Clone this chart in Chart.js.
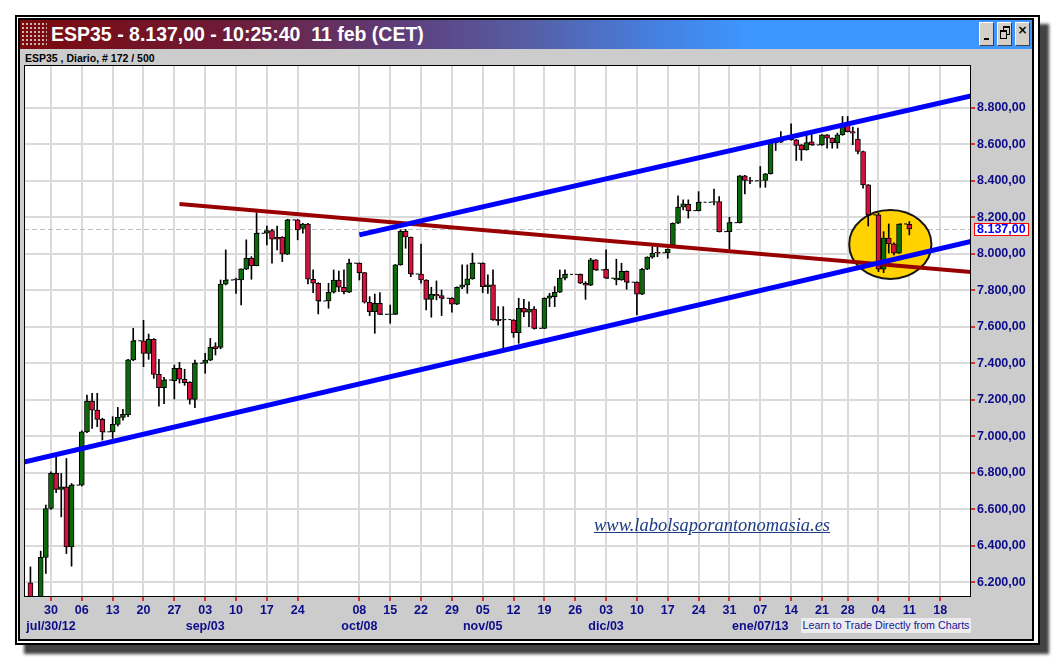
<!DOCTYPE html>
<html>
<head>
<meta charset="utf-8">
<title>ESP35 - Diario</title>
<script src="https://cdn.jsdelivr.net/npm/chart.js@4.4.1/dist/chart.umd.min.js"></script>
<style>
  html, body { margin: 0; padding: 0; background: #fff; }
  body { position: relative; width: 1056px; height: 660px; overflow: hidden; font-family: "Liberation Sans", Arial, sans-serif; }
  #outer { position: absolute; left: 15px; top: 15px; width: 1025px; height: 630px; box-sizing: border-box; border: 2px solid #000; background: #fff; box-shadow: 9px 9px 3px rgba(45,45,45,0.9); }
  #inner { position: absolute; left: 18px; top: 18px; width: 1016px; height: 623px; box-sizing: border-box; border: 2px solid #000; background: #cccccc; }
  #titlebar { position: absolute; left: 20px; top: 20px; width: 1012px; height: 29px;
    background: linear-gradient(to right, #7b0a0c 0%, #6e1a36 20%, #5d3f7c 38%, #5560a8 51%, #4580e0 63%, #3d96ff 72%, #3d96ff 100%); }
  #icon { position: absolute; left: 21px; top: 22px; width: 26px; height: 25px;
    background-image: radial-gradient(circle, #c9b3b3 0 1px, transparent 1.3px); background-size: 4px 4px; }
  #title { position: absolute; left: 51px; top: 20px; height: 29px; line-height: 29px; color: #fff; font-weight: bold; font-size: 19.5px; white-space: pre; }
  .btn { position: absolute; top: 22px; width: 15px; height: 24px; box-sizing: border-box; background: #d4d0c8;
    border: 1px solid; border-color: #fff #404040 #404040 #fff; }
  #bmin i { position: absolute; left: 4px; top: 15px; width: 5px; height: 2px; background: #000; }
  #bres i { position: absolute; width: 5px; height: 6px; border: 1px solid #000; border-top-width: 2px; background: #d4d0c8; }
  #bclose span { position: absolute; left: 0; top: 1px; width: 13px; text-align: center; font: bold 12px "DejaVu Sans", sans-serif; color: #000; line-height: 12px; }
  #sub { position: absolute; left: 25px; top: 52px; font-weight: bold; font-size: 10.5px; line-height: 12px; color: #000; white-space: pre; }
  canvas { position: absolute; left: 0; top: 0; z-index: 1; }
  #web { position: absolute; z-index: 2; left: 594px; top: 515px; font: italic 18.5px "Liberation Serif", "Times New Roman", serif;
    color: #1c3c84; text-decoration: underline; line-height: 20px; white-space: nowrap; }
  #learn { position: absolute; z-index: 2; left: 801px; top: 618px; width: 170px; height: 15px; line-height: 15px; background: #ececec;
    color: #14149a; font-size: 10.7px; text-align: center; white-space: nowrap; }
</style>
</head>
<body>
<div id="outer"></div>
<div id="inner"></div>
<div id="titlebar"></div>
<div id="icon"></div>
<div id="title">ESP35 - 8.137,00 - 10:25:40  11 feb (CET)</div>
<div class="btn" id="bmin" style="left:979px"><i></i></div>
<div class="btn" id="bres" style="left:997px"><i style="left:5px;top:3px"></i><i style="left:2px;top:7px"></i></div>
<div class="btn" id="bclose" style="left:1015px"><span>×</span></div>
<div id="sub">ESP35 , Diario, # 172 / 500</div>
<canvas id="chart" width="1056" height="660"></canvas>
<div id="web">www.labolsaporantonomasia.es</div>
<div id="learn">Learn to Trade Directly from Charts</div>

<script>
// bar number in the feed (blank weekend/holiday bars are skipped)
const bar = [
  0, 1, 2, 3, 4, 5, 6, 7, 8,
  10, 11, 12, 13, 14,
  16, 17, 18, 19, 20,
  22, 23, 24, 25, 26,
  28, 29, 30, 31, 32,
  34, 35, 36, 37, 38,
  40, 41, 42, 43, 44,
  46, 47, 48, 49, 50,
  52, 53, 54, 55, 56,
  58, 59, 60, 61, 62,
  64, 65, 66, 67, 68,
  70, 71, 72, 73, 74,
  76, 77, 78, 79, 80,
  82, 83, 84, 85, 86,
  88, 89, 90, 91, 92,
  94, 95, 96, 97, 98,
  100, 101, 102, 103, 104,
  107, 108, 109, 110,
  112, 114, 115, 116,
  118, 119, 120, 121, 122,
  124, 125, 126, 127, 128,
  130, 133, 134,
  136, 138, 139, 140,
  142, 143, 144, 145, 146,
  148, 149, 150, 151, 152,
  154, 155, 156, 157, 158,
  159, 160, 161, 162, 163,
  165, 166, 167, 168, 169,
  171
];

const open = [
  6197, 5960, 6040, 6337, 6605, 6797, 6710, 6724, 6395,
  6733, 7025, 7194, 7144, 7093,
  7025, 7066, 7104, 7117, 7419,
  7524, 7455, 7532, 7340, 7267,
  7305, 7373, 7313, 7296, 7203,
  7401, 7418, 7492, 7488, 7834,
  7857, 7857, 7916, 7976, 7936,
  8113, 8128, 8091, 8091, 7998,
  8186, 8140, 8164, 7861, 7839,
  7742, 7790, 7857, 7817, 7790,
  7949, 7897, 7735, 7683, 7729,
  7669, 7669, 7940, 8124, 8091,
  7890, 7857, 7751, 7779, 7771,
  7757, 7724, 7817, 7830, 7863,
  7949, 7820, 7830, 7642, 7638,
  7638, 7568, 7702, 7680, 7697,
  7592, 7757, 7766, 7790, 7867,
  7888, 7839, 7828, 7967,
  7916, 7857, 7857, 7905,
  7845, 7779, 7916, 7982, 8009,
  8007, 8048, 8168, 8256, 8272,
  8237, 8283, 8287,
  8122, 8171, 8428, 8402,
  8402, 8402, 8439, 8610, 8612,
  8647, 8625, 8597, 8570, 8614,
  8597, 8652, 8634, 8610, 8652,
  8707, 8670, 8629, 8561, 8378,
  8214, 7916, 8086, 8055, 8004,
  8162
];

const high = [
  6285, 6080, 6371, 6623, 6806, 6888, 6797, 6879, 6742,
  7030, 7227, 7236, 7236, 7100,
  7108, 7159, 7148, 7422, 7592,
  7636, 7561, 7536, 7422, 7324,
  7391, 7406, 7368, 7300, 7418,
  7455, 7537, 7513, 7857, 8022,
  7867, 7918, 8077, 7985, 8226,
  8153, 8135, 8153, 8095, 8190,
  8188, 8168, 8168, 7912, 7842,
  7839, 7912, 7906, 7912, 7972,
  7951, 7899, 7766, 7780, 7788,
  7720, 7942, 8131, 8134, 8093,
  8054, 7859, 7817, 7852, 7802,
  7760, 7819, 7940, 7940, 8004,
  7951, 7885, 7912, 7711, 7711,
  7640, 7757, 7751, 7738, 7711,
  7760, 7784, 7821, 7912, 7912,
  7890, 7848, 7976, 7969,
  8022, 7971, 7949, 7907,
  7847, 7921, 7984, 8040, 8040,
  8028, 8170, 8318, 8296, 8296,
  8341, 8355, 8314,
  8201, 8430, 8430, 8420,
  8479, 8441, 8612, 8625, 8670,
  8713, 8627, 8599, 8662, 8662,
  8654, 8654, 8636, 8662, 8753,
  8753, 8695, 8689, 8563, 8380,
  8223, 8122, 8164, 8060, 8164,
  8177
];

const low = [
  5950, 5930, 6010, 6249, 6600, 6691, 6559, 6358, 6289,
  6728, 7020, 7044, 7053, 6980,
  6989, 7057, 7089, 7108, 7415,
  7382, 7422, 7318, 7166, 7180,
  7205, 7292, 7280, 7177, 7157,
  7346, 7415, 7446, 7480, 7830,
  7784, 7720, 7914, 7861, 7934,
  8049, 7949, 8022, 7958, 7996,
  8077, 8113, 7835, 7788, 7671,
  7702, 7785, 7793, 7780, 7788,
  7857, 7730, 7662, 7565, 7667,
  7620, 7667, 7938, 8031, 7875,
  7839, 7693, 7653, 7748, 7662,
  7680, 7722, 7810, 7784, 7861,
  7788, 7784, 7636, 7610, 7483,
  7543, 7510, 7656, 7601, 7587,
  7590, 7711, 7711, 7788, 7857,
  7837, 7751, 7826, 7910,
  7865, 7830, 7855, 7806,
  7665, 7777, 7914, 7976, 7985,
  7976, 8046, 8166, 8241, 8196,
  8235, 8268, 8120,
  8026, 8169, 8329, 8385,
  8365, 8365, 8437, 8566, 8610,
  8623, 8512, 8512, 8568, 8595,
  8595, 8579, 8579, 8579, 8650,
  8668, 8598, 8548, 8360, 8153,
  7903, 7897, 8004, 7994, 8002,
  8104
];

const close = [
  5960, 6040, 6337, 6605, 6797, 6710, 6724, 6395, 6733,
  7025, 7194, 7144, 7093, 7025,
  7066, 7104, 7121, 7419, 7524,
  7455, 7532, 7340, 7267, 7309,
  7373, 7313, 7294, 7203, 7401,
  7418, 7488, 7480, 7834, 7857,
  7860, 7918, 7976, 7936, 8113,
  8128, 8080, 8080, 7998, 8186,
  8131, 8164, 7861, 7839, 7742,
  7790, 7857, 7817, 7793, 7949,
  7897, 7735, 7683, 7729, 7669,
  7672, 7940, 8124, 8093, 7890,
  7857, 7751, 7779, 7770, 7757,
  7724, 7817, 7830, 7863, 7949,
  7820, 7830, 7638, 7634, 7640,
  7568, 7702, 7680, 7697, 7592,
  7757, 7770, 7790, 7867, 7888,
  7839, 7828, 7967, 7912,
  7867, 7867, 7905, 7845,
  7779, 7916, 7982, 8004, 8006,
  8026, 8168, 8256, 8274, 8237,
  8283, 8287, 8122,
  8171, 8428, 8402, 8400,
  8404, 8439, 8610, 8621, 8634,
  8625, 8594, 8570, 8610, 8597,
  8652, 8634, 8610, 8652, 8707,
  8670, 8662, 8561, 8378, 8214,
  7916, 8086, 8055, 8004, 8164,
  8137
];

// weekly ticks (Monday bars) and their labels
const tickBars = [4, 10, 16, 22, 28, 34, 40, 46, 52, 64, 70, 76, 82, 88, 94, 100, 106, 112, 118, 124, 130, 136, 142, 148, 154, 159, 165, 171, 177];
const tickDays = ['30', '06', '13', '20', '27', '03', '10', '17', '24', '08', '15', '22', '29', '05', '12', '19', '26', '03', '10', '17', '24', '31', '07', '14', '21', '28', '04', '11', '18'];
const monthBars = [4, 34, 64, 88, 112, 142];
const monthNames = ['jul/30/12', 'sep/03', 'oct/08', 'nov/05', 'dic/03', 'ene/07/13'];

// drawn trend lines: [bar, price] end points
const channelLow = [[-1.25, 6860], [183, 8068]];
const channelHigh = [[64, 8104], [183, 8865]];
const resistance = [[29, 8274], [183, 7901]];
const marker = { bar: 167.3, price: 8052, rBars: 8, rPrice: 189 };
const lastPrice = 8137;

const UP = '#0a6a0a', DOWN = '#d4103c', NAVY = '#0c0c8a';
const axisFont = { family: 'Liberation Sans', size: 12.5, weight: 'bold', lineHeight: 1.25 };

const bodies = bar.map((b, i) => ({ x: b, y: [open[i], close[i]] }));
const wicks = bar.map((b, i) => ({ x: b, y: [low[i], high[i]] }));
const bodyColors = bar.map((b, i) => close[i] >= open[i] ? UP : DOWN);

// blank bars: dashed line at the previous close
const gaps = [];
for (let i = 0; i < bar.length - 1; i++) {
  if (bar[i + 1] - bar[i] > 1) {
    gaps.push({ x: bar[i], y: close[i] }, { x: bar[i + 1], y: close[i] }, { x: bar[i + 1], y: null });
  }
}

const pts = a => a.map(p => ({ x: p[0], y: p[1] }));
const fmt = v => Math.floor(v / 1000) + '.' + String(Math.round(v % 1000)).padStart(3, '0') + ',00';

const decor = {
  id: 'decor',
  beforeDraw(chart) {
    const { ctx, chartArea: a } = chart;
    ctx.save();
    ctx.fillStyle = '#fff';
    ctx.fillRect(a.left, a.top, a.right - a.left, a.bottom - a.top);
    ctx.restore();
  },
  beforeDatasetsDraw(chart) {
    const { ctx, chartArea: a, scales: { x, y } } = chart;
    ctx.save();
    const py = Math.round(y.getPixelForValue(lastPrice)) + 0.5;
    ctx.strokeStyle = '#bbbbbb';
    ctx.lineWidth = 1;
    ctx.setLineDash([5, 3]);
    ctx.beginPath();
    ctx.moveTo(a.left, py);
    ctx.lineTo(a.right, py);
    ctx.stroke();
    ctx.setLineDash([]);

    const cx = x.getPixelForValue(marker.bar), cy = y.getPixelForValue(marker.price);
    const rx = x.getPixelForValue(marker.bar + marker.rBars) - cx;
    const ry = cy - y.getPixelForValue(marker.price + marker.rPrice);
    ctx.beginPath();
    ctx.ellipse(cx, cy, rx, ry, 0, 0, Math.PI * 2);
    ctx.fillStyle = '#ffd200';
    ctx.fill();
    ctx.lineWidth = 2;
    ctx.strokeStyle = '#151515';
    ctx.stroke();
    ctx.restore();
  },
  afterDraw(chart) {
    const { ctx, chartArea: a, scales: { y } } = chart;
    ctx.save();
    ctx.strokeStyle = '#000';
    ctx.lineWidth = 1;
    ctx.strokeRect(a.left + 0.5, a.top + 0.5, a.right - a.left - 1, a.bottom - a.top - 1);

    const py = Math.round(y.getPixelForValue(lastPrice));
    ctx.fillStyle = '#fff';
    ctx.fillRect(a.right + 3, py - 6, 54, 12);
    ctx.strokeStyle = '#ff0000';
    ctx.strokeRect(a.right + 3.5, py - 5.5, 54, 12);
    ctx.fillStyle = '#0000ff';
    ctx.font = 'bold 12.5px "Liberation Sans"';
    ctx.textBaseline = 'middle';
    ctx.fillText(fmt(lastPrice), a.right + 6, py + 0.5);
    ctx.restore();
  }
};

new Chart(document.getElementById('chart'), {
  type: 'bar',
  data: {
    datasets: [
      { type: 'line', data: pts(channelLow), borderColor: '#0000ff', borderWidth: 5, pointRadius: 0, order: 0, clip: 0 },
      { type: 'line', data: pts(channelHigh), borderColor: '#0000ff', borderWidth: 5, pointRadius: 0, order: 0, clip: 0 },
      { type: 'line', data: pts(resistance), borderColor: '#990000', borderWidth: 4, pointRadius: 0, order: 0, clip: 0 },
      { data: bodies, backgroundColor: bodyColors, borderColor: '#000', borderWidth: 1, borderSkipped: false,
        barThickness: 5, grouped: false, order: 1 },
      { data: wicks, backgroundColor: '#000', barThickness: 1, grouped: false, order: 2 },
      { type: 'line', data: gaps, borderColor: '#000', borderWidth: 1, borderDash: [3, 2], pointRadius: 0, spanGaps: false, order: 3 }
    ]
  },
  options: {
    responsive: false,
    animation: false,
    devicePixelRatio: 1,
    layout: { padding: { left: 24, top: 65, right: 25, bottom: 23 } },
    plugins: { legend: { display: false }, tooltip: { enabled: false } },
    scales: {
      x: {
        type: 'linear', min: -1.25, max: 183, offset: false,
        afterFit: s => { s.height = 40; },
        afterBuildTicks: s => { s.ticks = tickBars.map(v => ({ value: v })); },
        grid: { color: '#dadada', lineWidth: 2, tickColor: '#e00000', tickLength: 4, tickWidth: 1.5, offset: false },
        border: { display: false },
        ticks: {
          autoSkip: false, maxRotation: 0, minRotation: 0, padding: 2, color: NAVY, font: axisFont,
          callback: v => {
            const i = tickBars.indexOf(v), m = monthBars.indexOf(v);
            return m >= 0 ? [tickDays[i], monthNames[m]] : tickDays[i];
          }
        }
      },
      y: {
        position: 'right', min: 6120, max: 9035,
        afterFit: s => { s.width = 60; },
        afterBuildTicks: s => { s.ticks = s.ticks.filter(t => t.value >= 6200 && t.value <= 8800); },
        grid: { color: '#dadada', lineWidth: 2, tickColor: '#e00000', tickLength: 4, tickWidth: 1.5 },
        border: { display: false },
        ticks: { stepSize: 200, includeBounds: false, padding: 2, color: NAVY, font: axisFont, callback: v => fmt(v) }
      }
    }
  },
  plugins: [decor]
});
</script>
</body>
</html>
